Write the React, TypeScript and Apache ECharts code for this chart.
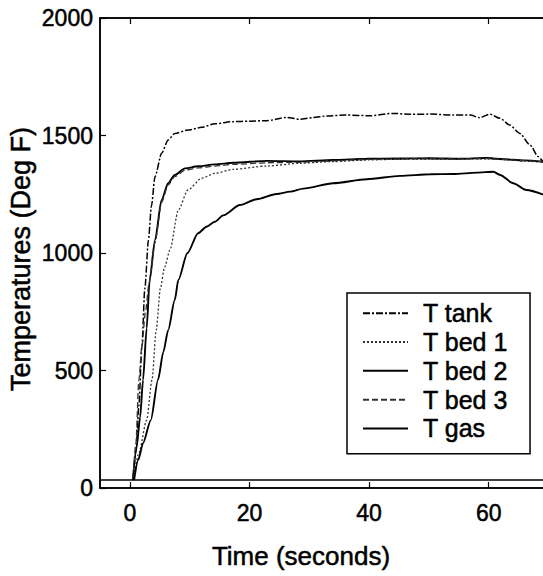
import React, { useEffect, useRef } from "react";
import * as echarts from "echarts";

const seriesNames = ["T tank", "T bed 1", "T bed 2", "T bed 3", "T gas"];

const tankTime = [0.5, 1.0, 1.5, 2.0, 2.5, 3.1, 3.6, 4.2, 5.3, 6.4, 7.5, 9.7, 12.0, 14.2, 17.3, 20.0, 22.9, 26.2, 28.4, 30.5, 32.9, 36.2, 40.1, 44.0, 47.0, 50.2, 54.1, 56.9, 58.5, 60.2, 61.9, 63.5, 65.2, 66.9, 68.3, 69.5];
const tankTemp = [34, 150, 350, 600, 850, 1055, 1200, 1325, 1424, 1481, 1509, 1523, 1535, 1550, 1559, 1561, 1563, 1577, 1569, 1576, 1583, 1587, 1584, 1594, 1590, 1591, 1587, 1587, 1576, 1591, 1573, 1545, 1509, 1460, 1410, 1370];

const bed1Time = [0.6, 1.5, 2.8, 3.7, 4.4, 5.1, 5.8, 6.7, 8.1, 9.7, 12.0, 14.2, 17.3, 22.9, 28.4, 34.0, 40.0, 45.0, 50.0, 55.0, 60.0, 63.0, 66.0, 69.5];
const bed1Temp = [34, 150, 289, 460, 672, 850, 940, 1013, 1183, 1268, 1318, 1339, 1356, 1370, 1382, 1389, 1396, 1399, 1400, 1400, 1401, 1397, 1391, 1386];

const bed2Time = [0.5, 1.1, 1.7, 2.2, 2.8, 3.3, 4.2, 5.3, 6.4, 7.5, 9.2, 11.4, 14.2, 17.3, 22.9, 28.4, 34.0, 39.6, 45.0, 50.2, 55.0, 59.6, 62.0, 66.0, 69.5];
const bed2Temp = [34, 170, 300, 460, 680, 885, 1055, 1226, 1297, 1332, 1360, 1369, 1377, 1384, 1392, 1390, 1396, 1401, 1402, 1403, 1401, 1404, 1400, 1394, 1388];

const bed3Time = [0.5, 1.0, 1.5, 2.0, 2.6, 3.2, 4.2, 5.3, 6.4, 7.5, 9.2, 11.4, 14.2, 17.3, 22.9, 28.4, 34.0, 39.6, 45.0, 50.2, 55.0, 59.6, 62.0, 66.0, 69.5];
const bed3Temp = [34, 190, 460, 600, 750, 870, 1045, 1215, 1290, 1325, 1352, 1362, 1370, 1377, 1384, 1386, 1392, 1398, 1400, 1401, 1400, 1402, 1399, 1393, 1387];

const gasTime = [0.7, 1.4, 2.2, 3.5, 4.7, 5.6, 6.4, 7.5, 8.1, 9.6, 11.4, 12.8, 14.2, 15.6, 18.4, 21.2, 24.5, 26.8, 29.0, 34.0, 39.6, 45.2, 50.2, 54.1, 58.0, 60.8, 61.9, 64.1, 66.3, 69.5];
const gasTemp = [34, 120, 191, 289, 460, 580, 672, 800, 885, 999, 1084, 1112, 1133, 1160, 1204, 1229, 1251, 1261, 1274, 1297, 1314, 1328, 1335, 1336, 1342, 1346, 1332, 1297, 1268, 1245];

const xTicks = [0, 20, 40, 60];
const baselineTemp = 34;

const FONT = "'Liberation Sans', Arial, Helvetica, sans-serif";
const heavy = { textBorderColor: "#000", textBorderWidth: 0.5 };

export default function App() {
  const ref = useRef<HTMLDivElement>(null);

  useEffect(() => {
    if (!ref.current) return;
    const chart = echarts.init(ref.current, null, { renderer: "svg" });
    const zip = (t: number[], v: number[]) => t.map((x, i) => [x, v[i]]);

    const mk = (name: string, data: number[][], lineStyle: any, extra: any = {}) => ({
      name,
      type: "line",
      data,
      symbol: "none",
      showSymbol: false,
      smooth: 0.25,
      smoothMonotone: "x",
      color: "#000",
      lineStyle: { color: "#000", ...lineStyle },
      xAxisIndex: 0,
      yAxisIndex: 0,
      z: 3,
      ...extra,
    });

    chart.setOption({
      animation: false,
      backgroundColor: "#fff",
      textStyle: { fontFamily: FONT, color: "#000" },
      grid: {
        left: 100,
        top: 18,
        width: 448.5,
        height: 470,
        show: true,
        borderColor: "#000",
        borderWidth: 1.5,
        containLabel: false,
      },
      legend: {
        orient: "vertical",
        left: 347,
        top: 293,
        padding: [7.5, 22, 12.5, 15],
        itemWidth: 45,
        itemHeight: 14,
        itemGap: 3.3,
        borderColor: "#000",
        borderWidth: 1.5,
        borderRadius: 0,
        backgroundColor: "#fff",
        selectedMode: false,
        data: seriesNames,
        itemStyle: { opacity: 0, color: "transparent", borderColor: "transparent" },
        textStyle: {
          fontFamily: FONT,
          fontSize: 25,
          lineHeight: 25,
          color: "#000",
          padding: [0, 0, 0, 10],
          ...heavy,
        },
      },
      xAxis: [
        {
          type: "value",
          position: "bottom",
          min: -5,
          max: 70,
          axisLine: { show: true, onZero: false, lineStyle: { color: "#000", width: 1.5 } },
          axisTick: { show: true, inside: true, length: 6, customValues: xTicks, lineStyle: { color: "#000", width: 1.2 } },
          axisLabel: { show: true, customValues: xTicks, margin: 13, fontSize: 23, color: "#000", fontFamily: FONT, ...heavy },
          splitLine: { show: false },
        },
        {
          type: "value",
          position: "top",
          min: -5,
          max: 70,
          axisLine: { show: true, onZero: false, lineStyle: { color: "#000", width: 1.5 } },
          axisTick: { show: true, inside: true, length: 6, customValues: xTicks, lineStyle: { color: "#000", width: 1.2 } },
          axisLabel: { show: false },
          splitLine: { show: false },
        },
      ],
      yAxis: [
        {
          type: "value",
          min: 0,
          max: 2000,
          interval: 500,
          axisLine: { show: true, onZero: false, lineStyle: { color: "#000", width: 1.5 } },
          axisTick: { show: true, inside: true, length: 6, lineStyle: { color: "#000", width: 1.2 } },
          axisLabel: {
            margin: 7,
            fontSize: 23,
            color: "#000",
            fontFamily: FONT,
            formatter: (v: number) => String(v),
            ...heavy,
          },
          splitLine: { show: false },
        },
      ],
      graphic: [
        {
          type: "text",
          x: 301,
          y: 556,
          style: {
            text: "Time (seconds)",
            font: `26px ${FONT}`,
            fill: "#000",
            stroke: "#000",
            lineWidth: 0.5,
            textAlign: "center",
            textVerticalAlign: "middle",
          },
          z: 10,
        },
        {
          type: "text",
          x: 21,
          y: 259,
          rotation: Math.PI / 2,
          style: {
            text: "Temperatures (Deg F)",
            font: `27px ${FONT}`,
            fill: "#000",
            stroke: "#000",
            lineWidth: 0.5,
            textAlign: "center",
            textVerticalAlign: "middle",
          },
          z: 10,
        },
      ],
      series: [
        mk(seriesNames[0], zip(tankTime, tankTemp), { width: 1.5, type: [7, 2, 2, 2] }),
        mk(seriesNames[1], zip(bed1Time, bed1Temp), { width: 1.3, type: [2, 2], color: "#333" }),
        mk(seriesNames[2], zip(bed2Time, bed2Temp), { width: 1.9, type: "solid" }),
        mk(seriesNames[3], zip(bed3Time, bed3Temp), { width: 1.3, type: [6, 3], color: "#333" }),
        mk(seriesNames[4], zip(gasTime, gasTemp), { width: 1.9, type: "solid" }, {
          markLine: {
            silent: true,
            symbol: "none",
            label: { show: false },
            lineStyle: { color: "#000", width: 1.5, type: "solid" },
            data: [{ yAxis: baselineTemp }],
          },
        }),
      ],
    });

    return () => chart.dispose();
  }, []);

  return (
    <div
      style={{
        position: "fixed",
        left: 0,
        top: 0,
        width: 543,
        height: 576,
        overflow: "hidden",
        background: "#fff",
      }}
    >
      <div ref={ref} style={{ width: 560, height: 576 }} />
    </div>
  );
}
